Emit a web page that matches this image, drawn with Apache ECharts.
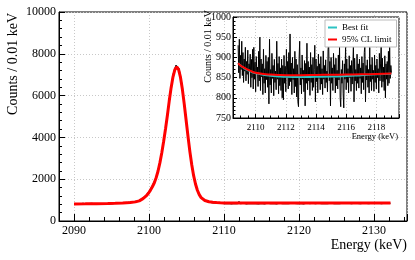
<!DOCTYPE html>
<html><head><meta charset="utf-8">
<script src="https://cdn.jsdelivr.net/npm/echarts@6/dist/echarts.min.js"></script>
<style>html,body{margin:0;padding:0;background:#fff}#c{width:415px;height:260px}</style>
</head><body><div id="c"></div>
<script>
const FONT = '"Liberation Serif", "Times New Roman", serif';

// tick labels
const mainXTicks = [2090, 2100, 2110, 2120, 2130];
const mainYTicks = [0, 2000, 4000, 6000, 8000, 10000];
const insetXTicks = [2110, 2112, 2114, 2116, 2118];
const insetYTicks = [750, 800, 850, 900, 950, 1000];

// main spectrum (bin sampled every 0.2 keV)
const mainDataStart = 2090.0, mainDataStep = 0.2;
const mainDataCounts = [
 790, 845, 805, 832, 820, 798, 850, 812, 826, 802,
 838, 810, 846, 815, 800, 840, 822, 852, 808, 834,
 815, 858, 826, 842, 812, 866, 830, 850, 860, 828,
 872, 838, 866, 848, 885, 858, 892, 870, 905, 888,
 925, 902, 950, 930, 995, 1010, 1095, 1120, 1215, 1260,
 1400, 1465, 1650, 1735, 1960, 2110, 2430, 2680, 3110, 3440,
 3990, 4370, 4990, 5440, 6080, 6460, 6990, 7240, 7450, 7480,
 7290, 6900, 6500, 5860, 5350, 4640, 4110, 3440, 2990, 2450,
 2130, 1760, 1570, 1320, 1250, 1090, 1080, 975, 990, 920,
 955, 890, 940, 870, 915, 860, 905, 850, 890, 845,
 900, 830, 880, 845, 905, 820, 878, 840, 895, 832,
 930, 825, 880, 848, 870, 815, 890, 842, 875, 826,
 888, 834, 870, 815, 898, 846, 872, 820, 882, 850,
 866, 828, 895, 840, 878, 818, 890, 852, 870, 832,
 885, 845, 900, 826, 872, 850, 892, 838, 880, 830,
 896, 842, 874, 822, 902, 856, 880, 836, 888, 848,
 870, 824, 895, 850, 884, 832, 904, 846, 876, 828,
 892, 856, 874, 836, 906, 842, 880, 826, 898, 852,
 878, 838, 900, 848, 886, 830, 908, 854, 882, 840,
 896, 832, 884, 858, 902, 844, 876, 836, 910, 850,
 880, 842, 898, 856, 888, 834, 904, 852, 886, 846,
 895, 850
];

// main fit curve
const mainFitE = [2090.0, 2091.5, 2093.0, 2094.5, 2095.5, 2096.5, 2097.5, 2098.2, 2098.7, 2099.2,
 2099.7, 2099.95, 2100.2, 2100.45, 2100.7, 2100.95, 2101.2, 2101.45, 2101.7, 2101.95,
 2102.2, 2102.45, 2102.7, 2102.95, 2103.2, 2103.45, 2103.7, 2103.95, 2104.2, 2104.45,
 2104.7, 2104.95, 2105.2, 2105.45, 2105.7, 2105.95, 2106.2, 2106.45, 2106.7, 2106.95,
 2107.2, 2107.45, 2107.7, 2108.0, 2108.5, 2109.0, 2109.5, 2110.0, 2111.0, 2112.0,
 2115.0, 2119.0, 2125.0, 2132.2];
const mainFitCounts = [816, 820, 826, 836, 845, 857, 880, 915, 965, 1070,
 1230, 1340, 1480, 1640, 1820, 2070, 2380, 2780, 3250, 3800,
 4400, 5050, 5750, 6380, 6900, 7240, 7370, 7240, 6870, 6300,
 5590, 4820, 4050, 3320, 2690, 2170, 1770, 1470, 1260, 1120,
 1035, 980, 945, 920, 898, 881, 870, 863, 858, 856,
 857, 860, 862, 864];

// inset spectrum (every 0.04 keV)
const insetDataStart = 2108.84, insetDataStep = 0.04;
const insetDataCounts = [
 930, 862, 945, 848, 905, 870, 940, 855, 912, 838, 896, 866, 925, 842, 890, 858, 918, 835, 884, 870, 908, 826, 895, 850, 920,
 822, 925, 846, 888, 815, 902, 860, 876, 828, 915, 842, 950, 818, 896, 852, 884, 808, 920, 836, 872, 812, 905, 845, 890, 826,
 900, 785, 945, 832, 870, 812, 910, 848, 880, 805, 895, 838, 866, 820, 940, 846, 885, 810, 902, 830, 874, 818, 896, 800, 880,
 795, 905, 836, 878, 815, 920, 850, 890, 822, 912, 830, 958, 840, 886, 808, 900, 845, 872, 812, 915, 828, 896, 802, 882, 790,
 778, 898, 940, 832, 874, 810, 906, 846, 868, 815, 892, 780, 885, 836, 935, 820, 890, 842, 876, 806, 912, 838, 882, 818, 900,
 826, 870, 930, 790, 896, 840, 878, 812, 908, 848, 884, 820, 902, 834, 872, 808, 916, 846, 880, 824, 894, 838, 866, 815, 920,
 935, 842, 890, 780, 900, 836, 874, 818, 910, 850, 882, 812, 898, 830, 868, 822, 906, 844, 925, 800, 778, 870, 836, 892, 810,
 775, 884, 846, 930, 820, 896, 838, 872, 812, 904, 850, 880, 816, 892, 834, 876, 935, 790, 898, 842, 870, 818, 908, 836, 884,
 824, 896, 848, 874, 810, 902, 838, 886, 820, 912, 935, 790, 880, 844, 894, 826, 870, 812, 925, 840, 882, 818, 900, 846, 868,
 816, 906, 838, 880, 822, 896, 850, 872, 812, 910, 842, 886, 935, 826, 898, 840, 876, 818, 904, 800, 884, 846, 890, 830, 915,
 836, 925, 848, 880, 862
];

// inset fits
const insetFitE = [2108.84, 2109.0, 2109.25, 2109.5, 2109.75, 2110.0, 2110.5, 2111.0, 2111.5, 2112.0, 2113.0, 2114.0, 2115.0, 2116.0, 2117.0, 2118.0, 2119.0];
const insetBestFit = [886, 880, 873, 868, 864, 861, 857, 854.5, 853, 852, 851.5, 852, 852.5, 854, 856, 858, 859.5];
const insetLimit = [886, 880, 874, 869, 865, 862, 859, 857.5, 856.5, 856, 856, 856.5, 857, 857.5, 858, 859, 860];

function binned(start, step, vals) { return vals.map((v, i) => [+(start + i * step).toFixed(3), v]); }
function zip(xs, ys) { return xs.map((x, i) => [x, ys[i]]); }
function near(list, v) { return list.some(t => Math.abs(t - v) < 1e-6); }

const tickLine = {color: '#000', width: 1};
const gridLine = {show: true, lineStyle: {color: '#c8c8c8', width: 1, type: [1, 2]}};

const chart = echarts.init(document.getElementById('c'), null, {renderer: 'canvas'});
chart.setOption({
  animation: false,
  backgroundColor: '#fff',
  textStyle: {fontFamily: FONT},
  grid: [
    {left: 59, top: 12, right: 8, bottom: 39, show: true, borderColor: '#000', borderWidth: 1, backgroundColor: 'rgba(0,0,0,0)'},
    {left: 233, top: 17, right: 16, bottom: 142, show: true, borderColor: '#000', borderWidth: 1, backgroundColor: '#fff', z: 3}
  ],
  xAxis: [
    {gridIndex: 0, type: 'value', min: 2088, max: 2134.4, splitNumber: 5,
     axisLine: {show: true, lineStyle: {color: '#000'}},
     axisTick: {show: true, inside: true, length: 7, lineStyle: tickLine},
     minorTick: {show: true, splitNumber: 5, length: 4, lineStyle: tickLine},
     axisLabel: {fontFamily: FONT, fontSize: 12, color: '#000', margin: 4, showMinLabel: false, showMaxLabel: false,
       formatter: v => near(mainXTicks, v) ? String(Math.round(v)) : ''},
     splitLine: gridLine},
    {gridIndex: 1, type: 'value', min: 2108.5, max: 2119.5, splitNumber: 5, z: 4,
     axisLine: {show: true, lineStyle: {color: '#000'}},
     axisTick: {show: true, inside: true, length: 4, lineStyle: tickLine},
     minorTick: {show: true, splitNumber: 4, length: 2.5, lineStyle: tickLine},
     axisLabel: {fontFamily: FONT, fontSize: 9, color: '#000', margin: 5, showMinLabel: false, showMaxLabel: false,
       formatter: v => near(insetXTicks, v) ? String(Math.round(v)) : ''},
     splitLine: gridLine}
  ],
  yAxis: [
    {gridIndex: 0, type: 'value', min: 0, max: 10000, interval: 2000,
     axisLine: {show: true, lineStyle: {color: '#000'}},
     axisTick: {show: true, inside: true, length: 6, lineStyle: tickLine},
     minorTick: {show: true, splitNumber: 5, length: 3, lineStyle: tickLine},
     axisLabel: {fontFamily: FONT, fontSize: 12, color: '#000', margin: 3,
       formatter: v => near(mainYTicks, v) ? String(v) : ''},
     splitLine: gridLine},
    {gridIndex: 1, type: 'value', min: 750, max: 1000, interval: 50, z: 4,
     axisLine: {show: true, lineStyle: {color: '#000'}},
     axisTick: {show: true, inside: true, length: 4, lineStyle: tickLine},
     minorTick: {show: true, splitNumber: 5, length: 2.5, lineStyle: tickLine},
     axisLabel: {fontFamily: FONT, fontSize: 10, color: '#000', margin: 2,
       formatter: v => near(insetYTicks, v) ? String(v) : ''},
     splitLine: gridLine}
  ],
  legend: {
    data: ['Best fit', '95% CL limit'], left: 325, top: 20, orient: 'vertical',
    icon: 'rect', itemWidth: 9, itemHeight: 2, itemGap: 3, padding: [3, 5, 3, 3],
    backgroundColor: '#fff', borderColor: '#bbb', borderWidth: 1, borderRadius: 0,
    textStyle: {fontFamily: FONT, fontSize: 9, color: '#000'}, z: 8, selectedMode: false
  },
  series: [
    {name: 'data', type: 'line', xAxisIndex: 0, yAxisIndex: 0, data: binned(mainDataStart, mainDataStep, mainDataCounts),
     symbol: 'none', lineStyle: {color: '#000', width: 1.2}, color: '#000', z: 2, silent: true},
    {name: 'fit', type: 'line', xAxisIndex: 0, yAxisIndex: 0, data: zip(mainFitE, mainFitCounts),
     symbol: 'none', lineStyle: {color: '#ff0000', width: 3}, color: '#ff0000', z: 2, silent: true},
    {name: 'inset data', type: 'line', xAxisIndex: 1, yAxisIndex: 1, data: binned(insetDataStart, insetDataStep, insetDataCounts),
     symbol: 'none', lineStyle: {color: '#000', width: 1}, color: '#000', z: 5, silent: true},
    {name: 'Best fit', type: 'line', xAxisIndex: 1, yAxisIndex: 1, data: zip(insetFitE, insetBestFit),
     symbol: 'none', smooth: true, lineStyle: {color: '#2cc3c3', width: 2}, color: '#2cc3c3', z: 6, silent: true},
    {name: '95% CL limit', type: 'line', xAxisIndex: 1, yAxisIndex: 1, data: zip(insetFitE, insetLimit),
     symbol: 'none', smooth: true, lineStyle: {color: '#ff0000', width: 2}, color: '#ff0000', z: 7, silent: true}
  ],
  graphic: [
    {type: 'text', x: 13, y: 13, rotation: Math.PI / 2, z: 10,
     style: {text: 'Counts / 0.01 keV', font: '14px ' + FONT, fill: '#000', textAlign: 'right', textVerticalAlign: 'middle', align: 'right', verticalAlign: 'middle'}},
    {type: 'text', x: 407, y: 245, z: 10,
     style: {text: 'Energy (keV)', font: '14px ' + FONT, fill: '#000', textAlign: 'right', textVerticalAlign: 'middle', align: 'right', verticalAlign: 'middle'}},
    {type: 'text', x: 208, y: 10, rotation: Math.PI / 2, z: 10,
     style: {text: 'Counts / 0.01 keV', font: '10px ' + FONT, fill: '#000', textAlign: 'right', textVerticalAlign: 'middle', align: 'right', verticalAlign: 'middle'}},
    {type: 'text', x: 398, y: 136.5, z: 10,
     style: {text: 'Energy (keV)', font: '8.5px ' + FONT, fill: '#000', textAlign: 'right', textVerticalAlign: 'middle', align: 'right', verticalAlign: 'middle'}}
  ]
});
</script>
</body></html>
